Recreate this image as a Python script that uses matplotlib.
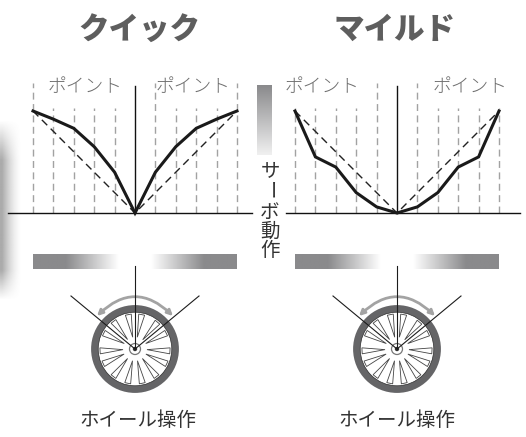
import numpy as np
import matplotlib
matplotlib.use("Agg")
from matplotlib import pyplot as plt
from matplotlib.colors import LinearSegmentedColormap
from matplotlib.patches import Circle, FancyArrowPatch, Polygon

plt.rcParams['font.family'] = ['Noto Sans CJK JP', 'DejaVu Sans']

# chart data: servo output (%) at each wheel point
points = [-5, -4, -3, -2, -1, 0, 1, 2, 3, 4, 5]
quick_curve = [100, 92, 83, 65, 40, 0, 40, 65, 83, 92, 100]
mild_curve = [100, 55, 45, 20, 6, 0, 6, 20, 45, 55, 100]
linear_line = [100, 80, 60, 40, 20, 0, 20, 40, 60, 80, 100]
quick_tall = [-5, 1, 5]
mild_tall = [-1, 1]

W, H = 526, 437
fig = plt.figure(figsize=(W / 100, H / 100), dpi=100)

# background layer in pixels for the decorations
bg = fig.add_axes([0, 0, 1, 1])
bg.set_xlim(0, W)
bg.set_ylim(H, 0)
bg.axis('off')

GREY = '#8a8a8c'
fade = LinearSegmentedColormap.from_list('fade', [GREY, '#ffffff'])


def draw_bar(x0, x1):
    #horizontal bar, dark at both ends and white in the middle
    u = np.abs(np.linspace(-1, 1, 300))
    g = np.clip((0.68 - u) / 0.52, 0, 1)[None, :]
    bg.imshow(g, extent=(x0, x1, 269, 254), cmap=fade, vmin=0, vmax=1, aspect='auto')


draw_bar(33, 237)
draw_bar(295, 499)

# vertical gradient box
v = np.linspace(0, 1, 100)[:, None]
vcmap = LinearSegmentedColormap.from_list('v', [GREY, '#f0f0f0'])
bg.imshow(v, extent=(257, 272, 155, 85), cmap=vcmap, aspect='auto')

# soft shadow on the left edge
sx = np.linspace(0, 24, 48)
sy = np.linspace(118, 305, 180)
xx, yy = np.meshgrid(sx, sy)
ax_prof = np.clip((22 - xx) / 20, 0, 1) ** 1.6
ay_prof = np.clip((yy - 120) / 40, 0, 1) * np.clip((300 - yy) / 30, 0, 1)
shadow = np.zeros(xx.shape + (4,))
shadow[..., :3] = 0.4
shadow[..., 3] = 0.55 * ax_prof * ay_prof
bg.imshow(shadow, extent=(0, 24, 305, 118), aspect='auto', zorder=1)
bg.set_xlim(0, W)
bg.set_ylim(H, 0)


def draw_wheel(cx, cy):
    #tyre and rim
    bg.add_patch(Circle((cx, cy), 40.3, fill=False, ec='#656567', lw=5.2, zorder=2))
    bg.add_patch(Circle((cx, cy), 36.8, fill=False, ec='#333333', lw=0.5, zorder=2))
    #spokes as thin open wedges
    for a in [101, 79, 50, 27, -3, -25, -52, -78, -102, -128, -155, -177, 153, 128]:
        t = np.radians(a)
        tip = 12
        d = np.array([np.cos(t), -np.sin(t)])
        n = np.array([d[1], -d[0]])
        p = [np.array([cx, cy]) + d * tip,
             np.array([cx, cy]) + d * 35 + n * 3.0,
             np.array([cx, cy]) + d * 35 - n * 3.0]
        bg.add_patch(Polygon(p, closed=True, fc='white', ec='#444444', lw=0.6, zorder=3))
    #hub
    bg.add_patch(Circle((cx, cy), 5.5, fc='white', ec='#777777', lw=0.9, zorder=4))
    bg.add_patch(Circle((cx, cy), 2.2, fc='#333333', ec='none', zorder=4))
    #steering lines
    for ex, ey in [(cx - 64, cy - 53), (cx, cy - 83), (cx + 64, cy - 53)]:
        bg.plot([cx, ex], [cy, ey], color='#1c1c1c', lw=0.8, zorder=5)
    #travel arrow
    bg.add_patch(FancyArrowPatch((cx - 38, cy - 33), (cx + 38, cy - 33), arrowstyle='<|-|>',
                                 connectionstyle='arc3,rad=-0.48', mutation_scale=8,
                                 color='#a3a3a3', lw=2.0, shrinkA=0, shrinkB=0, zorder=1.5))


draw_wheel(135, 349)
draw_wheel(397, 349)


def draw_chart(x0, y_curve, tall, left_px, right_px):
    #axes span -5..5 across 204 px and 0..100 across 102 px
    ax = fig.add_axes([x0 / W, 1 - 213 / H, 204 / W, 102 / H])
    ax.patch.set_alpha(0)
    ax.set_xlim(-5, 5)
    ax.set_ylim(0, 100)
    ax.axis('off')
    unit = 204 / 10
    for p in points:
        if p == 0:
            continue
        top = 127 if p in tall else 103
        ax.plot([p, p], [0, top], color='#a2a2a2', lw=1.0, dashes=(5, 3.2), clip_on=False, zorder=1)
    cx = x0 + 102
    ax.plot([(left_px - cx) / unit, (right_px - cx) / unit], [0, 0], color='#111111', lw=1.0, clip_on=False, zorder=3)
    ax.plot([0, 0], [0, 125], color='#111111', lw=1.0, clip_on=False, zorder=3)
    ax.plot(points, linear_line, color='#222222', lw=1.0, dashes=(5.5, 3.5), clip_on=False, zorder=2)
    ax.plot(points, y_curve, color='#1a1a1a', lw=2.2, clip_on=False, zorder=4, solid_joinstyle='miter')


draw_chart(33, quick_curve, quick_tall, 8, 252)
draw_chart(295, mild_curve, mild_tall, 286, 520)

# titles
bg.text(139, 29, 'クイック', fontsize=22, fontweight='heavy', color='#5e5e5e', ha='center', va='center')
bg.text(395, 29, 'マイルド', fontsize=22, fontweight='heavy', color='#5e5e5e', ha='center', va='center')

# point labels
for x in [85, 193, 322, 470]:
    bg.text(x, 87, 'ポイント', fontsize=13.5, color='#6e6e6e', ha='center', va='center', fontweight='light')

# wheel labels
bg.text(138, 421, 'ホイール操作', fontsize=14, color='#333333', ha='center', va='center')
bg.text(397, 421, 'ホイール操作', fontsize=14, color='#333333', ha='center', va='center')

# vertical label
for ch, y, rot in [('サ', 172, 0), ('ー', 191, 270), ('ボ', 212, 0), ('動', 231, 0), ('作', 250, 0)]:
    bg.text(270, y, ch, fontsize=14, color='#333333', ha='center', va='center', rotation=rot)

fig.savefig('out.png', dpi=100)
